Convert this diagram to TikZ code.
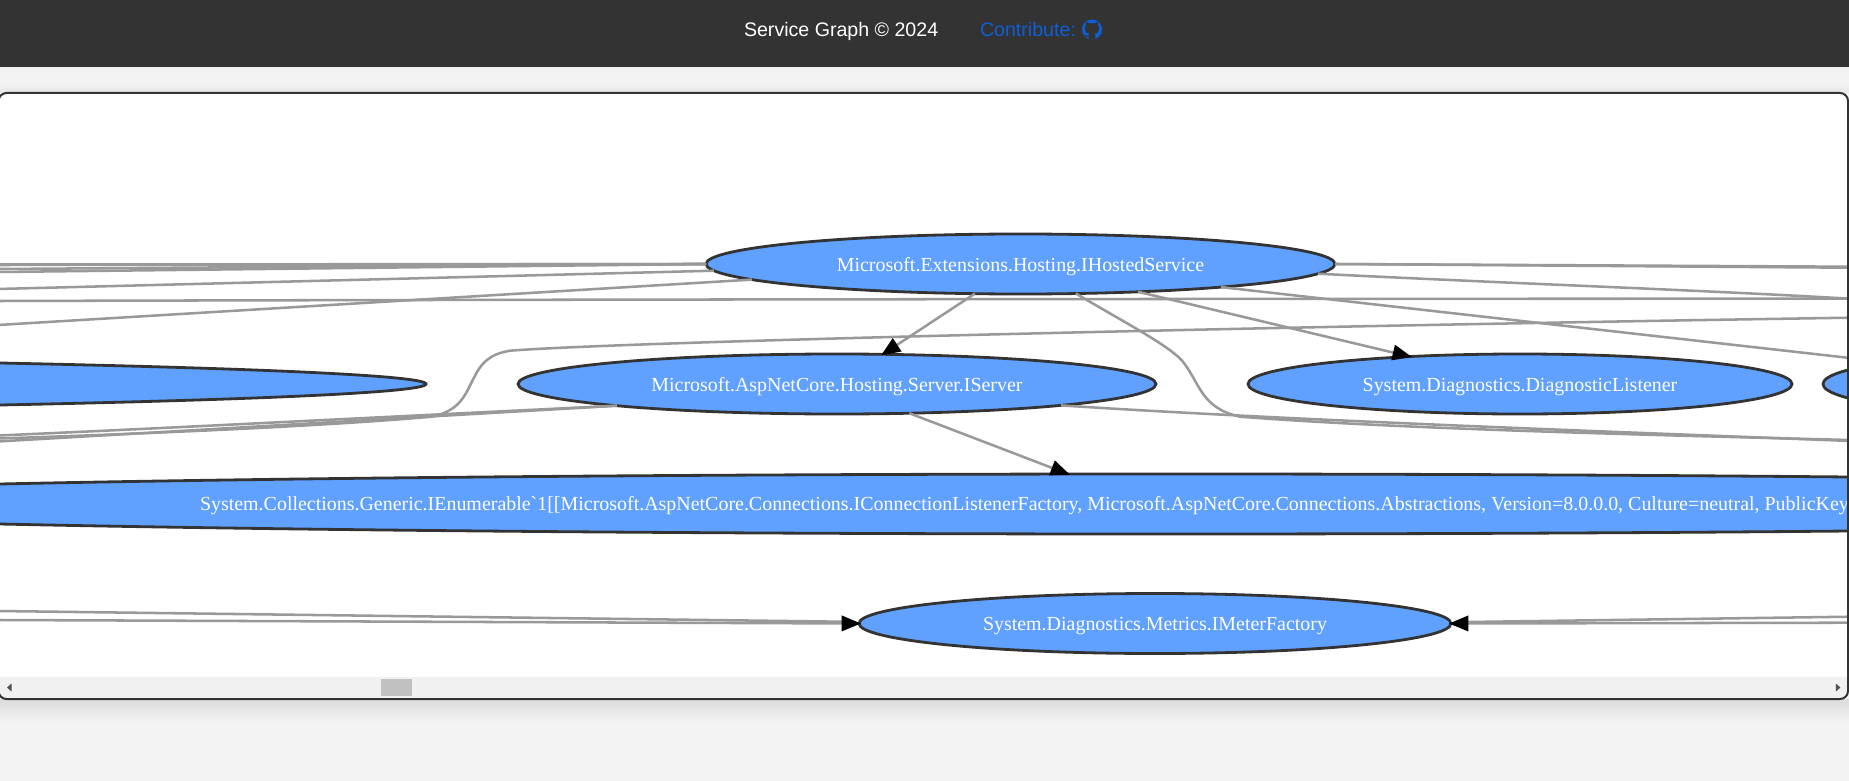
\documentclass[tikz,border=0pt]{standalone}
\usepackage{fontspec}
\setmainfont{Liberation Serif}
\newfontfamily\svcfont{Liberation Serif}
\newfontfamily\uifont{Liberation Sans}
\usetikzlibrary{arrows.meta,shapes.geometric}
\definecolor{hdr}{HTML}{333333}
\definecolor{pagebg}{HTML}{F3F3F3}
\definecolor{nodefill}{HTML}{60A0FF}
\definecolor{nodeline}{HTML}{333333}
\definecolor{edgecol}{HTML}{999999}
\definecolor{linkcol}{HTML}{0D5FD6}
\definecolor{track}{HTML}{F1F1F1}
\definecolor{thumb}{HTML}{C1C1C1}
\definecolor{sbarrow}{HTML}{505050}
\definecolor{shadowcol}{HTML}{DCDCDC}
\tikzset{
  svc/.style={ellipse,draw=nodeline,fill=nodefill,line width=2.1pt,inner sep=0pt,outer sep=0pt,
    minimum height=45pt,text=white,font=\svcfont\fontsize{14.96pt}{16pt}\selectfont,text height=10.5pt,text depth=0pt},
  svctext/.style={inner sep=0pt,outer sep=0pt,text=white,font=\svcfont\fontsize{14.96pt}{16pt}\selectfont},
  edge/.style={draw=edgecol,line width=1.9pt},
  arr/.style={edge,shorten >=-1.5pt,-{Triangle[length=14.5pt,width=11.5pt,fill=black,color=black]}},
  hdrtext/.style={inner sep=0pt,outer sep=0pt,font=\uifont\fontsize{14.7pt}{16pt}\selectfont},
}
\begin{document}
\begin{tikzpicture}[x=0.75pt,y=-0.75pt]
\useasboundingbox (0,0) rectangle (1849,781);
\fill[pagebg] (0,0) rectangle (1849,781);
% soft panel shadow
\shade[top color=shadowcol,bottom color=pagebg] (0,699) rectangle (1849,722);
\shade[top color=pagebg,bottom color=pagebg!95!black] (0,82) rectangle (1849,93);
% header
\fill[hdr] (0,0) rectangle (1849,67);
\node[hdrtext,text=white,anchor=base west] (title) at (744,37) {Service Graph © 2024};
\node[hdrtext,text=linkcol,anchor=base west] (contrib) at (980,37) {Contribute:};
\fill[linkcol] (1092,29.5) circle[radius=10];
\fill[hdr] (1085.6,26.5) .. controls (1085.4,24.5) and (1085.6,23.3) .. (1086.2,21.9)
  .. controls (1087.6,21.9) and (1088.8,22.7) .. (1089.6,23.5)
  .. controls (1091,23.1) and (1093,23.1) .. (1094.4,23.5)
  .. controls (1095.2,22.7) and (1096.4,21.9) .. (1097.8,21.9)
  .. controls (1098.4,23.3) and (1098.6,24.5) .. (1098.4,26.5)
  .. controls (1099.8,28.5) and (1099.2,33.1) .. (1094.6,33.9)
  .. controls (1095.2,34.7) and (1095.4,35.5) .. (1095.4,36.5)
  -- (1095.4,39.1) .. controls (1093.2,39.7) and (1090.8,39.7) .. (1088.6,39.1)
  -- (1088.6,36.9) .. controls (1086.6,37.3) and (1085,36.7) .. (1084.2,34.5)
  .. controls (1085.6,35.1) and (1087,36.1) .. (1088.6,35.7)
  .. controls (1088.6,34.9) and (1088.8,34.3) .. (1089.4,33.9)
  .. controls (1084.8,33.1) and (1084.2,28.5) .. (1085.6,26.5) -- cycle;
% panel
\fill[white,rounded corners=6] (-1.5,93) rectangle (1848,699);
\begin{scope}
\clip[rounded corners=6] (-1.5,93) rectangle (1848,677);
% services
\node[svc,minimum width=471.75pt] (hosted) at (1020.5,264) {Microsoft.Extensions.Hosting.IHostedService};
\node[svc,minimum width=478.5pt] (server) at (837,384) {Microsoft.AspNetCore.Hosting.Server.IServer};
\node[svc,minimum width=408pt] (diag) at (1520,384) {System.Diagnostics.DiagnosticListener};
\node[svc,minimum width=2235pt] (leftsvc) at (-1064,384) {};
\node[svc,minimum width=324pt] (rightsvc) at (2039,384) {};
\node[svc,minimum width=2347.5pt] (enum) at (1166,504) {};
\node[svctext,anchor=base west] (enumtext) at (200,510.7) {System.Collections.Generic.IEnumerable`1[[Microsoft.AspNetCore.Connections.IConnectionListenerFactory, Microsoft.AspNetCore.Connections.Abstractions, Version=8.0.0.0, Culture=neutral, PublicKey};
\node[svc,minimum width=444pt] (meter) at (1155,623.5) {System.Diagnostics.Metrics.IMeterFactory};
% free ends at the panel edges
\coordinate (la) at (-2,265);
\coordinate (lb) at (-2,264.5);
\coordinate (lc) at (-2,269);
\coordinate (ld) at (-2,272);
\coordinate (le) at (-2,289);
\coordinate (lf) at (-2,325);
\coordinate (lg) at (-2,301);
\coordinate (rg) at (1850,298.7);
\coordinate (lh) at (-2,438.5);
\coordinate (rh) at (1850,317.7);
\coordinate (li) at (-2,441.5);
\coordinate (lj) at (-2,435.5);
\coordinate (ra) at (1850,267.7);
\coordinate (rb) at (1850,266.7);
\coordinate (rc) at (1850,298.7);
\coordinate (rd) at (1850,358);
\coordinate (re) at (1850,440);
\coordinate (rf) at (1850,441);
\coordinate (lm) at (-2,611);
\coordinate (ln) at (-2,620);
\coordinate (rm) at (1850,616.7);
\coordinate (rn) at (1850,622.7);
% connectors
\draw[edge] (la) -- (hosted.180);
\draw[edge] (lb) -- (hosted.180);
\draw[edge] (lc) -- (hosted.180);
\draw[edge] (ld) -- (hosted.180);
\draw[edge] (le) -- ([shift={(-306.6,6.7)}]hosted.center);
\draw[edge] (lf) -- ([shift={(-268.5,15.6)}]hosted.center);
\draw[edge] (lg) .. controls (600,299.3) and (1300,298.7) .. (rg);
\draw[edge] (lh) .. controls (200,432) and (350,424) .. (431,416.7)
   .. controls (462,411) and (466,392) .. (474.5,376.7)
   .. controls (484,357) and (497,353) .. (510,350.7)
   .. controls (620,342) and (1240,327) .. (rh);
\draw[edge] (li) -- ([shift={(-220,21.7)}]server.center);
\draw[edge] (lj) .. controls (150,429) and (300,421) .. ([shift={(-220,21.7)}]server.center);
\draw[edge] (hosted.0) -- (ra);
\draw[edge] (hosted.0) -- (rb);
\draw[edge] ([shift={(297.5,9.7)}]hosted.center) .. controls (1500,283) and (1700,290) .. (rc);
\draw[edge] ([shift={(200.5,23.1)}]hosted.center) -- (rd);
\draw[edge] (hosted.-28.7) .. controls (1120,320) and (1165,343) .. (1181.5,360)
   .. controls (1200,382) and (1200,408) .. (1240,416.7)
   .. controls (1400,429) and (1650,435) .. (re);
\draw[edge] ([shift={(224,21.4)}]server.center) .. controls (1300,421) and (1650,433) .. (rf);
\draw[arr] (hosted.213.3) -- (server.33.4);
\draw[arr] ([shift={(117.5,27.8)}]hosted.center) -- (diag.166.3);
\draw[arr] (server.-22.5) -- (enum.163.4);
\draw[edge] (lm) -- (842,621.7);
\draw[arr] (ln) -- (meter.180);
\draw[edge] (rm) -- (1468,622);
\draw[arr] (rn) -- (meter.0);
\end{scope}
% scrollbar
\fill[track] (0,677) rectangle (1847,698);
\fill[thumb] (381,679) rectangle (412,696);
\fill[sbarrow] (7,687.5) -- (11.6,683.5) -- (11.6,691.5) -- cycle;
\fill[sbarrow] (1840.4,687.5) -- (1835.8,683.5) -- (1835.8,691.5) -- cycle;
% panel outline
\draw[nodeline,line width=1.5pt,rounded corners=6] (-1.5,93) rectangle (1848,699);
\end{tikzpicture}
\end{document}
